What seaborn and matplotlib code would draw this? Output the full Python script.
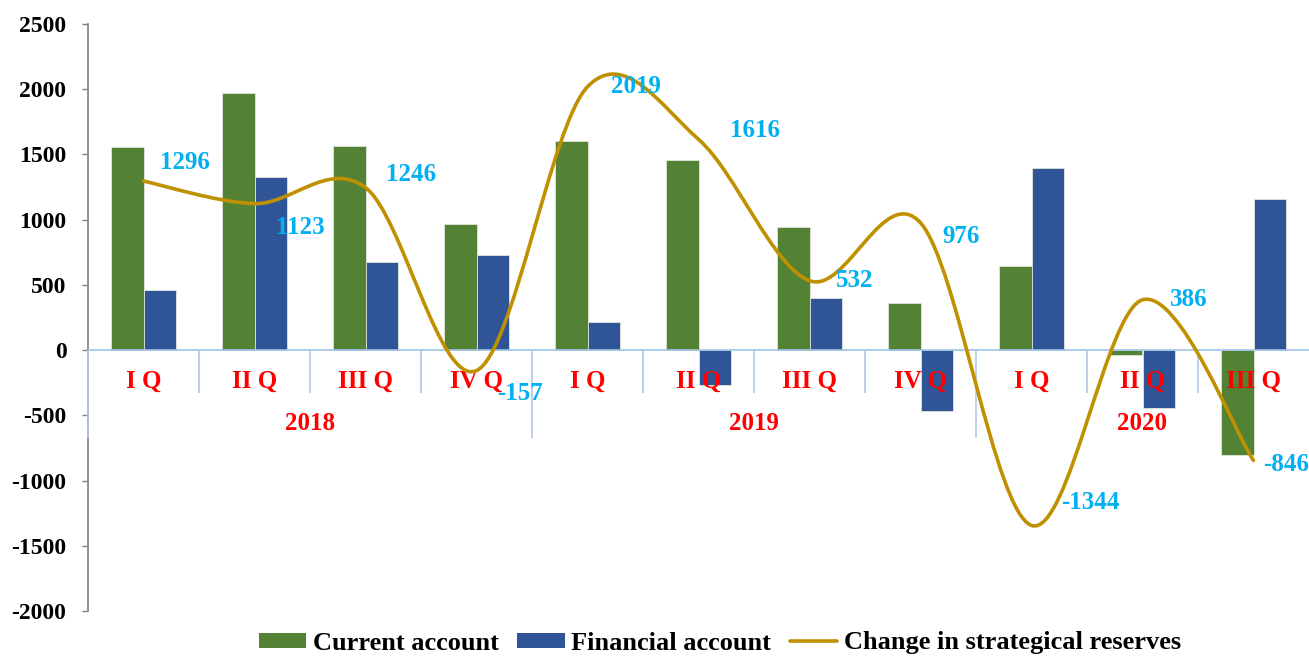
import numpy as np
import pandas as pd
import seaborn as sns
import matplotlib.pyplot as plt
from matplotlib.path import Path
from matplotlib.patches import PathPatch, Patch
from matplotlib.lines import Line2D

# data
years = ["2018", "2019", "2020"]
quarters_per_year = [4, 4, 3]
quarter_labels = ["I Q", "II Q", "III Q", "IV Q", "I Q", "II Q", "III Q", "IV Q", "I Q", "II Q", "III Q"]
current_account = [1557, 1971, 1565, 966, 1603, 1457, 943, 360, 644, -38, -805]
financial_account = [460, 1327, 675, 729, 215, -268, 399, -468, 1396, -445, 1158]
reserves_change = [1296, 1123, 1246, -157, 2019, 1616, 532, 976, -1344, 386, -846]

GREEN = "#548235"
BLUE = "#2F5597"
GOLD = "#BF9000"
LABEL_BLUE = "#00B0F0"
SEP = "#B4C7E7"

# label offsets in pixels (dx right, dy up) for the reserve labels
label_dx = [16, 22, 20, 21, 24, 31, 26, 22, 30, 27, 10]
label_dy = [19, -24, 13, -23, 0, 9, 0, -14, 23, 0, -4]

sns.set_theme(style="white")
plt.rcParams["font.family"] = ["Liberation Serif", "DejaVu Serif"]
plt.rcParams["font.weight"] = "bold"
plt.rcParams["text.color"] = "black"
plt.rcParams["ytick.color"] = "black"

year_of = []
for y, n in zip(years, quarters_per_year):
    year_of += [y] * n
periods = [f"{y} {q}" for y, q in zip(year_of, quarter_labels)]

df = pd.DataFrame({
    "period": periods * 2,
    "series": ["Current account"] * len(periods) + ["Financial account"] * len(periods),
    "value": current_account + financial_account,
})

fig = plt.figure(figsize=(13.09, 6.58), dpi=100)
ax = fig.add_axes([88 / 1309, 1 - 611 / 658, 1 - 88 / 1309, (611 - 24) / 658])

sns.barplot(
    data=df, x="period", y="value", hue="series", order=periods,
    palette=[GREEN, BLUE], width=0.58, ax=ax, legend=False,
    edgecolor="#dfe6d8", linewidth=0.6, saturation=1,
)

ax.set_xlim(-0.5, len(periods) - 0.5)
ax.set_ylim(-2000, 2500)
ax.set_yticks(np.arange(-2000, 2501, 500))
ax.set_yticklabels([str(v) for v in range(-2000, 2501, 500)], fontsize=17,
                   fontweight="bold", color="black")
ax.set_xticks([])
ax.set_xlabel("")
ax.set_ylabel("")
ax.tick_params(axis="y", direction="out", length=4.5, width=1, color="#808080", pad=11, left=True)
for s in ["top", "right", "bottom"]:
    ax.spines[s].set_visible(False)
ax.spines["left"].set_color("#808080")
ax.spines["left"].set_linewidth(1.2)

# category axis at zero
ax.axhline(0, color="#9DC3E6", lw=1.2, zorder=3)
px = 4500 / 587  # data units per pixel
bounds = np.arange(len(periods)) - 0.5
year_bounds = np.cumsum([0] + quarters_per_year) - 0.5
for b in bounds:
    depth = 88 if b in year_bounds else 43
    ax.vlines(b, -depth * px, 0, color=SEP, lw=1.2, zorder=3, clip_on=False)

for i, q in enumerate(quarter_labels):
    ax.annotate(q, (i, 0), xytext=(0, -22.5), textcoords="offset points",
                ha="center", va="center", color="red", fontsize=18, fontweight="bold")
start = 0
for y, n in zip(years, quarters_per_year):
    ax.annotate(y, ((start + start + n - 1) / 2, 0), xytext=(0, -52.5), textcoords="offset points",
                ha="center", va="center", color="red", fontsize=18, fontweight="bold")
    start += n

# smoothed reserves line (Excel-style Catmull-Rom bezier)
pts = np.column_stack([np.arange(len(reserves_change)), reserves_change]).astype(float)
ext = np.vstack([pts[0], pts, pts[-1]])
verts = [tuple(pts[0])]
codes = [Path.MOVETO]
for i in range(len(pts) - 1):
    p0, p1, p2, p3 = ext[i], ext[i + 1], ext[i + 2], ext[i + 3]
    c1 = p1 + (p2 - p0) / 6
    c2 = p2 - (p3 - p1) / 6
    verts += [tuple(c1), tuple(c2), tuple(p2)]
    codes += [Path.CURVE4] * 3
ax.add_patch(PathPatch(Path(verts, codes), facecolor="none", edgecolor=GOLD, lw=2.6,
                       capstyle="round", zorder=4))

for i, v in enumerate(reserves_change):
    ax.annotate(str(v), (i, v), xytext=(label_dx[i] * 0.72, label_dy[i] * 0.72),
                textcoords="offset points", ha="left", va="center",
                color=LABEL_BLUE, fontsize=18, fontweight="bold", annotation_clip=False, zorder=5)

handles = [
    Patch(facecolor=GREEN, edgecolor="none", label="Current account"),
    Patch(facecolor=BLUE, edgecolor="none", label="Financial account"),
    Line2D([0], [0], color=GOLD, lw=2.6, label="Change in strategical reserves"),
]
leg = fig.legend(handles=handles, loc="center", bbox_to_anchor=(720 / 1309, 1 - 643 / 658),
                 ncol=3, frameon=False, prop={"weight": "bold", "size": 19},
                 handlelength=1.8, handleheight=0.5, handletextpad=0.25, columnspacing=0.7,
                 borderaxespad=0, borderpad=0)
for t in leg.get_texts():
    t.set_color("black")

fig.savefig("out.png", dpi=100)
